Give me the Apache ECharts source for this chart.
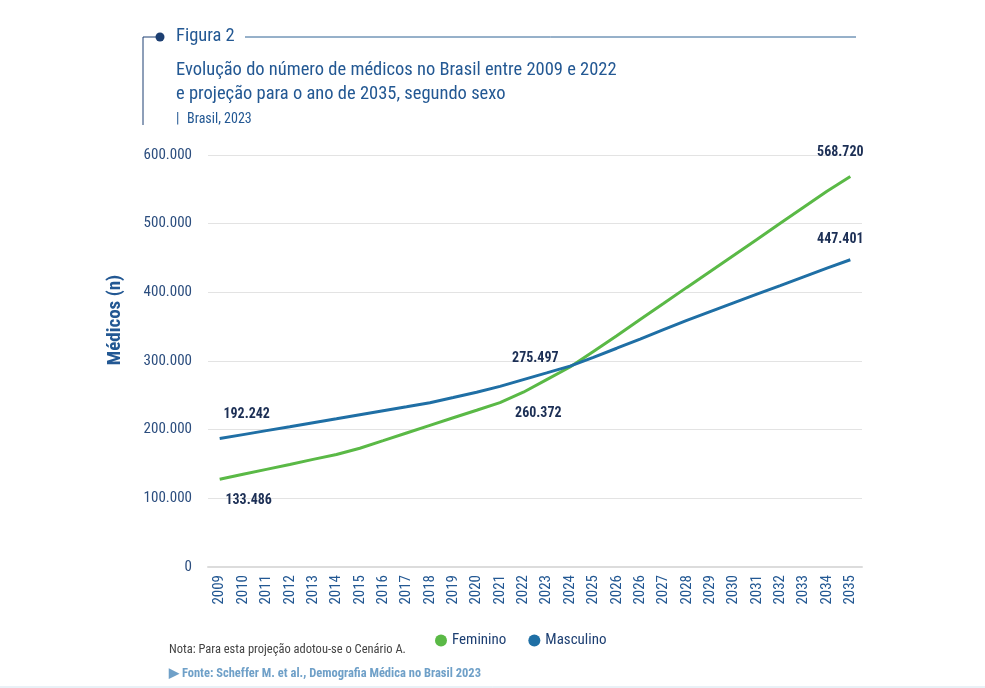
<!DOCTYPE html>
<html>
<head>
<meta charset="utf-8">
<title>Figura 2</title>
<script src="https://cdn.jsdelivr.net/npm/echarts@6/dist/echarts.min.js"></script>
<style>
  html, body { margin: 0; padding: 0; background: #fff; }
  #chart { width: 985px; height: 688px; }
</style>
</head>
<body>
<div id="chart"></div>
<script>
// years on the x axis (the source repeats 2026)
var years = ['2009', '2010', '2011', '2012', '2013', '2014', '2015', '2016', '2017', '2018',
  '2019', '2020', '2021', '2022', '2023', '2024', '2025', '2026', '2026', '2027',
  '2028', '2029', '2030', '2031', '2032', '2033', '2034', '2035'];

var feminino = [127700, 135000, 142200, 149400, 156700, 163900, 173000, 184000, 195100, 206200,
  217300, 228300, 239400, 254500, 272900, 291200, 314000, 336800, 360400, 383700,
  407200, 430500, 453800, 477100, 500500, 523800, 547100, 568720];
var masculino = [187000, 192800, 198600, 204300, 210100, 215900, 221800, 227600, 233400, 239300,
  246800, 254400, 263000, 272900, 282700, 292600, 305400, 318600, 332000, 345600,
  359100, 371900, 384600, 397300, 409900, 422600, 435300, 447401];

var yTicks = [0, 100000, 200000, 300000, 400000, 500000, 600000];

// labelled points: index into years, printed text
var femIdx = [0, 13, 27];
var femText = ['133.486', '260.372', '568.720'];
var mascIdx = [0, 13, 27];
var mascText = ['192.242', '275.497', '447.401'];

var NARROW = "'Liberation Sans Narrow', 'Roboto Condensed', Roboto, sans-serif";
var green = '#5ab946';
var blue = '#1f6fa5';
var navy = '#1d3f72';
var titleBlue = '#235893';

// label offsets (px) per labelled point
var femOff = [[29, 21], [15, 21], [-10, -24]];
var mascOff = [[27, -24], [12, -21], [-10, -20]];

function fmt(v) {
  return String(v).replace(/\B(?=(\d{3})+(?!\d))/g, '.');
}

function marks(idx, text, vals, off) {
  return idx.map(function(i, k) {
    return {
      coord: [i, vals[i]],
      label: { formatter: text[k], offset: off[k] }
    };
  });
}

var chart = echarts.init(document.getElementById('chart'), null, { renderer: 'canvas' });

chart.setOption({
  animation: false,
  textStyle: { fontFamily: NARROW },
  grid: { left: 208, right: 123, top: 155, bottom: 121 },
  legend: {
    data: ['Feminino', 'Masculino'],
    left: 430,
    top: 628,
    icon: 'circle',
    itemWidth: 12,
    itemHeight: 12,
    itemGap: 22,
    textStyle: { color: navy, fontSize: 15, fontFamily: NARROW }
  },
  xAxis: {
    type: 'category',
    data: years,
    boundaryGap: true,
    axisLine: { lineStyle: { color: '#dcdcdc', width: 2 } },
    axisTick: { show: false },
    axisLabel: {
      rotate: 90,
      interval: 0,
      margin: 8,
      color: titleBlue,
      fontSize: 15,
      fontFamily: NARROW
    }
  },
  yAxis: {
    type: 'value',
    min: yTicks[0],
    max: yTicks[yTicks.length - 1],
    interval: yTicks[1] - yTicks[0],
    axisLine: { show: false },
    axisTick: { show: false },
    splitLine: { lineStyle: { color: '#e3e3e3', width: 1 } },
    axisLabel: {
      margin: 16,
      color: '#2b4d7e',
      fontSize: 15,
      fontFamily: NARROW,
      formatter: fmt
    }
  },
  series: [
    {
      name: 'Feminino',
      type: 'line',
      data: feminino,
      showSymbol: false,
      itemStyle: { color: green },
      lineStyle: { color: green, width: 3 },
      markPoint: {
        symbol: 'circle',
        symbolSize: 1,
        itemStyle: { color: 'rgba(0,0,0,0)' },
        label: { show: true, position: 'inside', color: '#1c2f55', fontSize: 14, fontWeight: 'bold', fontFamily: NARROW },
        data: marks(femIdx, femText, feminino, femOff)
      }
    },
    {
      name: 'Masculino',
      type: 'line',
      data: masculino,
      showSymbol: false,
      itemStyle: { color: blue },
      lineStyle: { color: blue, width: 3 },
      markPoint: {
        symbol: 'circle',
        symbolSize: 1,
        itemStyle: { color: 'rgba(0,0,0,0)' },
        label: { show: true, position: 'inside', color: '#1c2f55', fontSize: 14, fontWeight: 'bold', fontFamily: NARROW },
        data: marks(mascIdx, mascText, masculino, mascOff)
      }
    }
  ],
  graphic: [
    // header bracket, dot and rule
    { type: 'polyline', shape: { points: [[160, 37], [143, 37], [143, 125]] }, style: { stroke: navy, lineWidth: 1, fill: null } },
    { type: 'circle', shape: { cx: 160, cy: 37, r: 4.5 }, style: { fill: navy } },
    { type: 'line', shape: { x1: 245, y1: 37, x2: 856, y2: 37 }, style: { stroke: '#2f6294', lineWidth: 1 } },
    { type: 'text', left: 176, top: 27, style: { text: 'Figura 2', fill: titleBlue, font: '18.5px ' + NARROW } },
    { type: 'text', left: 176, top: 61, style: { text: 'Evolução do número de médicos no Brasil entre 2009 e 2022', fill: titleBlue, font: '18.5px ' + NARROW } },
    { type: 'text', left: 176, top: 85, style: { text: 'e projeção para o ano de 2035, segundo sexo', fill: titleBlue, font: '18.5px ' + NARROW } },
    { type: 'text', left: 176, top: 112, style: { text: '|', fill: titleBlue, font: '14px ' + NARROW } },
    { type: 'text', left: 187, top: 112, style: { text: 'Brasil, 2023', fill: titleBlue, font: '14px ' + NARROW } },
    // y axis title
    {
      type: 'text',
      x: 115, y: 320,
      rotation: Math.PI / 2,
      style: { text: 'Médicos (n)', fill: titleBlue, font: 'bold 19px ' + NARROW, align: 'center', verticalAlign: 'middle' }
    },
    // footer
    { type: 'text', left: 169, top: 643, style: { text: 'Nota: Para esta projeção adotou-se o Cenário A.', fill: '#444', font: '12.5px ' + NARROW } },
    { type: 'text', left: 169, top: 667, style: { text: '\u25B6 Fonte: Scheffer M. et al., Demografia Médica no Brasil 2023', fill: '#6fa0c8', font: 'bold 12.5px ' + NARROW } },
    { type: 'line', shape: { x1: 0, y1: 687, x2: 985, y2: 687 }, style: { stroke: '#d3e3ee', lineWidth: 1 } }
  ]
});

window.addEventListener('resize', function() { chart.resize(); });
</script>
</body>
</html>
